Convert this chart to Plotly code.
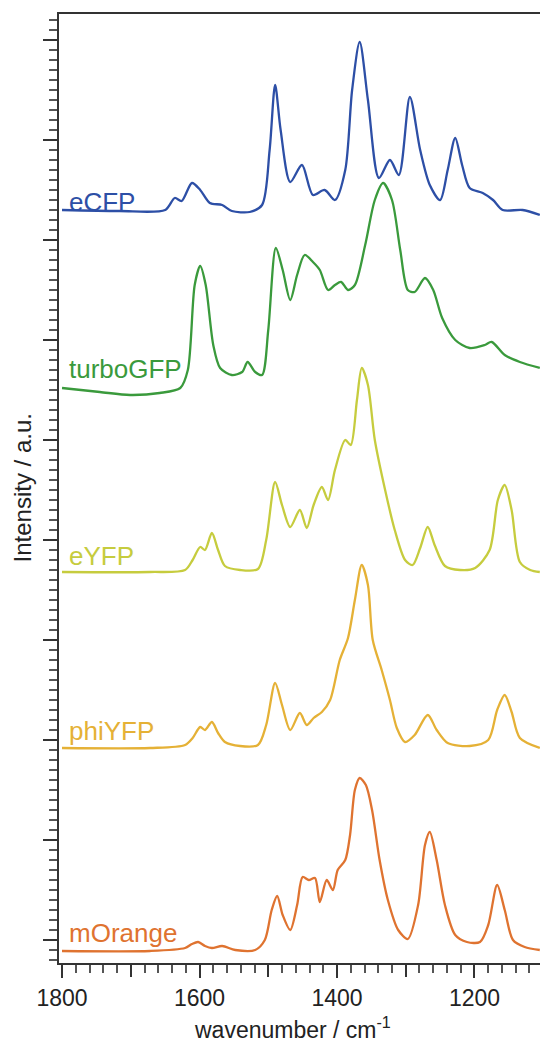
import plotly.graph_objects as go

# ---- data (wavenumber in cm^-1, intensity in a.u. incl. vertical offset) ----
ecfp_w = [1800, 1716, 1650, 1636, 1626, 1611, 1599, 1585, 1567, 1553, 1527, 1509, 1498, 1490, 1482,
          1468, 1451, 1435, 1418, 1403, 1388, 1378, 1367, 1355, 1339, 1323, 1310, 1294, 1279, 1265,
          1250, 1239, 1228, 1218, 1207, 1188, 1173, 1159, 1130, 1105]
ecfp_i = [73.0, 72.9, 73.0, 74.2, 73.9, 75.7, 75.0, 73.7, 73.5, 72.9, 72.8, 73.5, 79.0, 85.5, 81.0,
          75.8, 77.5, 74.5, 75.0, 74.0, 77.0, 85.0, 89.8, 84.0, 76.2, 78.0, 76.5, 84.3, 79.0, 75.5,
          74.0, 77.0, 80.2, 77.5, 75.2, 74.7, 74.0, 73.0, 73.0, 72.5]

tgfp_w = [1800, 1745, 1701, 1658, 1628, 1617, 1607, 1599, 1591, 1580, 1570, 1553, 1538, 1530, 1519,
          1509, 1500, 1489, 1479, 1468, 1458, 1447, 1435, 1425, 1413, 1403, 1394, 1384, 1374, 1359,
          1345, 1333, 1320, 1308, 1297, 1287, 1272, 1260, 1247, 1228, 1207, 1185, 1175, 1156, 1134, 1105]
tgfp_i = [55.2, 54.8, 54.5, 54.7, 55.2, 57.0, 65.5, 67.4, 65.5, 59.5, 57.2, 56.5, 56.8, 57.8, 56.8,
          56.5, 61.0, 69.2, 67.0, 64.0, 66.5, 68.5, 67.8, 67.0, 65.0, 65.5, 65.8, 65.0, 65.5, 69.5,
          74.0, 75.7, 74.0, 69.0, 65.0, 64.8, 66.2, 65.0, 62.2, 60.0, 59.2, 59.5, 59.8, 58.5, 57.8, 57.2]

eyfp_w = [1800, 1672, 1621, 1610, 1599, 1592, 1582, 1573, 1563, 1541, 1515, 1503, 1490, 1480, 1468,
          1454, 1444, 1434, 1422, 1413, 1403, 1388, 1380, 1371, 1364, 1355, 1345, 1330, 1316, 1301,
          1290, 1279, 1268, 1258, 1243, 1221, 1199, 1178, 1166, 1156, 1146, 1134, 1119, 1105]
eyfp_i = [36.8, 36.8, 37.0, 38.0, 39.3, 39.0, 40.7, 39.0, 37.4, 37.0, 37.1, 40.0, 45.8, 43.5, 41.3,
          43.0, 41.2, 43.5, 45.3, 44.0, 47.0, 50.0, 49.5, 54.0, 57.2, 55.5, 50.0, 45.0, 41.0, 38.0,
          37.5, 39.2, 41.3, 39.5, 37.4, 37.0, 37.2, 39.0, 44.0, 45.5, 43.0, 37.8, 37.0, 36.8]

phiyfp_w = [1800, 1672, 1621, 1610, 1599, 1592, 1582, 1573, 1563, 1541, 1515, 1503, 1490, 1480, 1468,
            1454, 1444, 1434, 1422, 1410, 1396, 1384, 1374, 1364, 1355, 1348, 1335, 1323, 1313, 1301,
            1287, 1268, 1255, 1239, 1207, 1180, 1167, 1156, 1146, 1134, 1105]
phiyfp_i = [19.2, 19.2, 19.5, 20.2, 21.3, 21.0, 21.8, 20.7, 19.8, 19.4, 19.5, 21.5, 25.7, 23.5, 21.0,
            22.7, 21.5, 22.2, 22.8, 24.0, 28.0, 30.2, 34.0, 37.5, 35.5, 30.0, 27.0, 24.0, 21.2, 19.8,
            20.5, 22.5, 21.0, 19.7, 19.4, 20.0, 23.0, 24.5, 22.8, 20.2, 19.2]

mor_w = [1800, 1672, 1621, 1611, 1602, 1592, 1582, 1567, 1548, 1519, 1505, 1495, 1487, 1479, 1468,
         1458, 1450, 1441, 1432, 1425, 1415, 1406, 1399, 1388, 1381, 1374, 1367, 1358, 1349, 1338,
         1326, 1311, 1297, 1282, 1272, 1265, 1255, 1243, 1228, 1211, 1192, 1180, 1167, 1156, 1144,
         1127, 1105]
mor_i = [-1.1, -1.1, -0.8, -0.4, -0.2, -0.6, -0.8, -0.6, -1.0, -1.0, 0.0, 3.0, 4.4, 2.5, 1.0,
         3.5, 6.3, 6.0, 6.2, 3.8, 6.0, 5.0, 7.0, 8.0, 10.5, 15.0, 16.2, 15.5, 13.0, 8.0,
         4.0, 1.0, 0.1, 3.5, 9.5, 10.8, 8.0, 3.5, 0.5, -0.2, -0.2, 1.5, 5.5, 3.0, 0.0,
         -0.7, -1.0]

names = ["eCFP", "turboGFP", "eYFP", "phiYFP", "mOrange"]
colors = ["#2d4fa6", "#3a9a3c", "#c6cc3e", "#e5b136", "#df7330"]
label_y = [73.8, 57.1, 38.4, 20.9, 0.7]

labelled_ticks = [1800, 1600, 1400, 1200]
unlabelled_ticks = [1700, 1500, 1300, 1100]

series = [(ecfp_w, ecfp_i), (tgfp_w, tgfp_i), (eyfp_w, eyfp_i), (phiyfp_w, phiyfp_i), (mor_w, mor_i)]

FONT = "Liberation Sans, Arial, sans-serif"
XRANGE = [1804.4, 1104.7]

fig = go.Figure()
for (w, i), name, col in zip(series, names, colors):
    fig.add_trace(go.Scatter(x=w, y=i, mode="lines", name=name,
                             line=dict(color=col, width=2.3, shape="spline", smoothing=0.8),
                             showlegend=False, hoverinfo="skip"))
# helper trace so the secondary (tick-only) x axis is drawn
fig.add_trace(go.Scatter(x=[unlabelled_ticks[0]], y=[None], xaxis="x2", mode="lines",
                         showlegend=False, hoverinfo="skip"))

annotations = []
for name, col, ly in zip(names, colors, label_y):
    annotations.append(dict(x=1793, y=ly, xref="x", yref="y", text=name, showarrow=False,
                            xanchor="left", yanchor="middle",
                            font=dict(family=FONT, size=26, color=col)))
annotations.append(dict(x=-37 / 481, y=0.5, xref="paper", yref="paper",
                        text="Intensity / a.u.", textangle=-90, showarrow=False,
                        xanchor="center", yanchor="middle",
                        font=dict(family=FONT, size=24, color="#222222")))
annotations.append(dict(x=(292 - 59) / 481, y=-(1028 - 963) / 949, xref="paper", yref="paper",
                        text="wavenumber / cm<sup>-1</sup>", showarrow=False,
                        xanchor="center", yanchor="middle",
                        font=dict(family=FONT, size=23, color="#222222")))

fig.update_layout(
    width=540, height=1044,
    margin=dict(l=59, r=0, t=14, b=81),
    paper_bgcolor="white", plot_bgcolor="white",
    annotations=annotations,
    xaxis=dict(range=XRANGE, showgrid=False, zeroline=False,
               showline=True, linecolor="#333333", linewidth=2, mirror=True,
               ticks="outside", ticklen=13, tickwidth=2, tickcolor="#333333",
               tickvals=labelled_ticks,
               minor=dict(dtick=20, tick0=1800, ticklen=8, tickwidth=2, tickcolor="#555555", ticks="outside"),
               tickfont=dict(family=FONT, size=23, color="#222222")),
    xaxis2=dict(range=XRANGE, overlaying="x", side="bottom", anchor="y",
                showgrid=False, zeroline=False, showline=False,
                ticks="outside", ticklen=13, tickwidth=2, tickcolor="#333333",
                tickvals=unlabelled_ticks, showticklabels=False),
    yaxis=dict(range=[-2.3, 92.6], showgrid=False, zeroline=False,
               showline=True, linecolor="#333333", linewidth=2, mirror=False,
               ticks="outside", ticklen=14, tickwidth=2, tickcolor="#333333",
               tick0=0, dtick=10, showticklabels=False,
               minor=dict(dtick=1, ticklen=8, tickwidth=2, tickcolor="#555555", ticks="outside")),
)

fig.write_html("out.html", config={"displayModeBar": False},
               post_script="document.body.style.margin='0';document.body.style.overflow='hidden';")
